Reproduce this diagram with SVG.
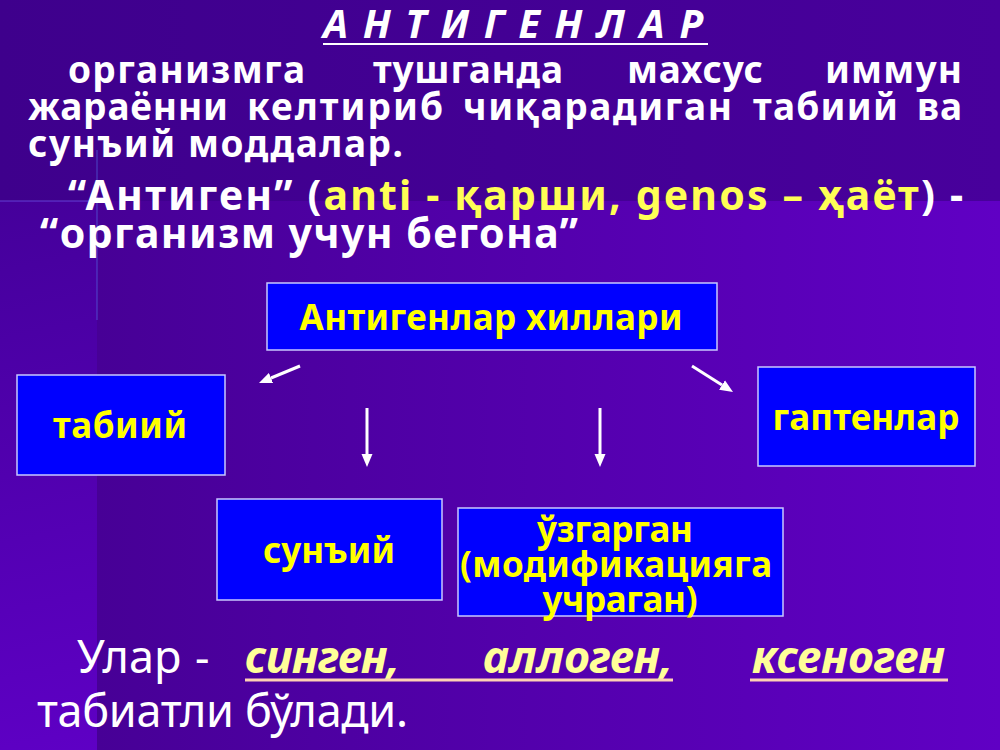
<svg xmlns="http://www.w3.org/2000/svg" width="1000" height="750" viewBox="0 0 1000 750">
  <defs>
    <linearGradient id="bgBase" x1="0" y1="0" x2="0.3" y2="1">
      <stop offset="0" stop-color="#3c008c"/>
      <stop offset="1" stop-color="#6000c8"/>
    </linearGradient>
    <linearGradient id="bgPanel" x1="0" y1="0" x2="1" y2="0">
      <stop offset="0" stop-color="#470096"/>
      <stop offset="1" stop-color="#6000c4"/>
    </linearGradient>
    <linearGradient id="bgTop" x1="0" y1="0" x2="1" y2="0">
      <stop offset="0" stop-color="#3e008c"/>
      <stop offset="1" stop-color="#48009c"/>
    </linearGradient>
    <marker id="ah" markerUnits="userSpaceOnUse" markerWidth="13" markerHeight="12" viewBox="0 0 13 12" refX="0" refY="6" orient="auto">
      <path d="M0,0.5 L13,6 L0,11.5 z" fill="#ffffff"/>
    </marker>
    <style>
      .w { fill: #ffffff; font-family: "Noto Sans", "Open Sans", sans-serif; }
      .p { font-size: 37px; font-weight: bold; }
      .q { font-size: 41px; font-weight: bold; }
      .y { fill: #ffff55; }
      .box { fill: #0000ff; stroke: #c8c8ff; stroke-width: 1.5; }
      .bt { fill: #ffff00; font-family: "Noto Sans", "Open Sans", sans-serif; font-size: 35px; font-weight: bold; text-anchor: middle; }
      .conn { stroke: #ffffff; stroke-width: 3; fill: none; marker-end: url(#ah); }
      .bot { font-size: 45px; }
      .it { fill: #ffff99; font-family: "Noto Sans", "Open Sans", sans-serif; font-size: 45px; font-weight: bold; font-style: italic; }
      .ul { stroke: #ffd2b4; stroke-width: 3; }
    </style>
  </defs>

  <!-- background -->
  <rect x="0" y="0" width="1000" height="750" fill="url(#bgBase)"/>
  <rect x="0" y="0" width="1000" height="201" fill="url(#bgTop)"/>
  <rect x="97" y="201" width="903" height="549" fill="url(#bgPanel)"/>
  <line x1="0" y1="201" x2="97" y2="201" stroke="#7a6cff" stroke-width="1" opacity="0.6"/>
  <line x1="97" y1="150" x2="97" y2="320" stroke="#5a8cff" stroke-width="1" opacity="0.5"/>

  <!-- title -->
  <g id="title">
    <text class="w" x="323" y="38" font-size="40" font-weight="bold" font-style="italic" textLength="380" lengthAdjust="spacing">А Н Т И Г Е Н Л А Р</text>
    <line x1="323" y1="44" x2="708" y2="44" stroke="#ffffff" stroke-width="2"/>
  </g>

  <!-- definition paragraph -->
  <g id="definition" class="w p">
    <text x="68" y="83" textLength="237">организмга</text>
    <text x="373" y="83" textLength="190">тушганда</text>
    <text x="627" y="83" textLength="136">махсус</text>
    <text x="825" y="83" textLength="137">иммун</text>
    <text x="28" y="120" textLength="200">жараённи</text>
    <text x="247" y="120" textLength="196">келтириб</text>
    <text x="463" y="120" textLength="269">чиқарадиган</text>
    <text x="753" y="120" textLength="145">табиий</text>
    <text x="917" y="120" textLength="45">ва</text>
    <text x="28" y="157" textLength="375">сунъий моддалар.</text>
  </g>

  <g id="etymology" class="w q">
    <text x="68" y="210" textLength="895" lengthAdjust="spacing">“Антиген” (<tspan class="y">anti - қарши, genos – ҳаёт</tspan>) -</text>
    <text x="40" y="248" textLength="538" lengthAdjust="spacing">“организм учун бегона”</text>
  </g>

  <!-- nodes -->
  <g id="node-types">
    <rect class="box" x="267" y="283" width="450" height="67"/>
    <text class="bt" x="491" y="330" textLength="383">Антигенлар хиллари</text>
  </g>
  <g id="node-natural">
    <rect class="box" x="17" y="375" width="208" height="100"/>
    <text class="bt" x="120" y="438" textLength="134">табиий</text>
  </g>
  <g id="node-haptens">
    <rect class="box" x="758" y="367" width="217" height="99"/>
    <text class="bt" x="866" y="430" textLength="187">гаптенлар</text>
  </g>
  <g id="node-artificial">
    <rect class="box" x="217" y="499" width="225" height="101"/>
    <text class="bt" x="329" y="563" textLength="132">сунъий</text>
  </g>
  <g id="node-modified">
    <rect class="box" x="458" y="508" width="325" height="108"/>
    <text class="bt" x="615" y="542" textLength="156">ўзгарган</text>
    <text class="bt" x="616" y="577" textLength="312">(модификацияга</text>
    <text class="bt" x="620" y="612" textLength="155">учраган)</text>
  </g>

  <!-- connectors -->
  <g id="connectors">
    <line class="conn" x1="300" y1="366" x2="271" y2="378"/>
    <line class="conn" x1="367" y1="408" x2="367" y2="454"/>
    <line class="conn" x1="600" y1="408" x2="600" y2="454"/>
    <line class="conn" x1="692" y1="366" x2="722" y2="385"/>
  </g>

  <!-- bottom sentence -->
  <g id="conclusion">
    <text class="w bot" x="77" y="673">Улар</text>
    <text class="w bot" x="195" y="673">-</text>
    <text class="it" x="245" y="673" textLength="155">синген,</text>
    <text class="it" x="483" y="673" textLength="190">аллоген,</text>
    <text class="it" x="752" y="673" textLength="193">ксеноген</text>
    <line class="ul" x1="245" y1="680" x2="673" y2="680"/>
    <line class="ul" x1="750" y1="680" x2="948" y2="680"/>
    <text class="w bot" x="37" y="727" textLength="371">табиатли бўлади.</text>
  </g>
</svg>
